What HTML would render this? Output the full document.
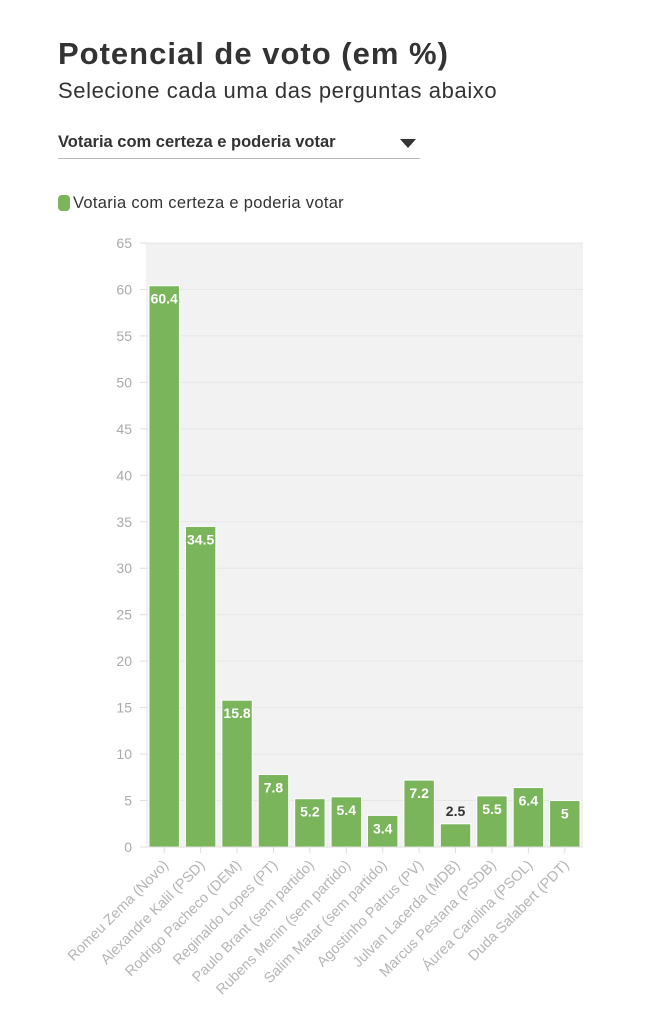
<!DOCTYPE html>
<html><head><meta charset="utf-8"><style>
body{margin:0;background:#fff;width:655px;height:1024px;overflow:hidden;font-family:"Liberation Sans",sans-serif}
h1{position:absolute;left:58px;top:36px;margin:0;font-size:31px;font-weight:bold;color:#333;letter-spacing:1px}
.sub{position:absolute;left:58px;top:78px;font-size:22px;color:#333;letter-spacing:0.6px}
.dd{position:absolute;left:58px;top:133px;width:362px;height:25px;border-bottom:1px solid #bbb;font-size:16.5px;font-weight:bold;color:#333}
.tri{position:absolute;right:4px;top:6px;width:0;height:0;border-left:8px solid transparent;border-right:8px solid transparent;border-top:9px solid #333}
.leg{position:absolute;left:58px;top:194px;font-size:16.5px;color:#333;letter-spacing:0.3px}
.sw{display:inline-block;width:12px;height:16px;border-radius:4px;background:#7ab55c;vertical-align:-3px;margin-right:3px}
</style></head><body>
<h1>Potencial de voto (em %)</h1>
<div class="sub">Selecione cada uma das perguntas abaixo</div>
<div class="dd">Votaria com certeza e poderia votar<span class="tri"></span></div>
<div class="leg"><span class="sw"></span>Votaria com certeza e poderia votar</div>
<svg id="c" width="655" height="1024" style="position:absolute;left:0;top:0"></svg>
<script>
const categories=["Romeu Zema (Novo)","Alexandre Kalil (PSD)","Rodrigo Pacheco (DEM)","Reginaldo Lopes (PT)","Paulo Brant (sem partido)","Rubens Menin (sem partido)","Salim Matar (sem partido)","Agostinho Patrus (PV)","Julvan Lacerda (MDB)","Marcus Pestana (PSDB)","Áurea Carolina (PSOL)","Duda Salabert (PDT)"];
const values=[60.4,34.5,15.8,7.8,5.2,5.4,3.4,7.2,2.5,5.5,6.4,5];
const yTicks=[0,5,10,15,20,25,30,35,40,45,50,55,60,65];
const svg=document.getElementById('c');const NS='http://www.w3.org/2000/svg';
const L=146,R=583,T=243,B=847,YMAX=65;
const y=v=>B-(v/YMAX)*(B-T);
const bw=(R-L)/categories.length;
const x=i=>L+i*bw;
function mk(t,a,p){const e=document.createElementNS(NS,t);for(const k in a)e.setAttribute(k,a[k]);(p||svg).appendChild(e);return e;}
const bg=mk('rect',{x:L,y:T,width:R-L,height:B-T,fill:'#f2f2f2'});


yTicks.forEach(t=>{
 const g=mk('line',{x1:L,x2:R,y1:y(t),y2:y(t),stroke:'#e6e6e6','stroke-width':1});
 
 
 const tk=mk('line',{x1:L-6,x2:L,y1:y(t),y2:y(t),stroke:'#ddd'});
 
 
 const tx=mk('text',{x:L-14,y:y(t)+5,'text-anchor':'end','font-size':14,fill:'#aaa','font-family':'Liberation Sans, sans-serif'});
 tx.textContent=t;
 
 
});
values.forEach((v,i)=>{
 const bx=x(i)+3,w=bw-6;
 const r=mk('rect',{x:bx,y:y(v),width:w,height:B-y(v),fill:'#7ab55c',stroke:'#fff','stroke-width':1});
 
 
 const cx=x(i)+bw/2;
 const inside=(B-y(v))>26;
 const ly=inside?y(v)+18:y(v)-8;
 const lab=mk('text',{x:cx,y:ly,'text-anchor':'middle','font-size':14,'font-weight':'bold',fill:inside?'#fff':'#333','font-family':'Liberation Sans, sans-serif'});
 if(inside){lab.setAttribute('stroke','#7ab55c');lab.setAttribute('stroke-width','3');lab.setAttribute('paint-order','stroke');}
 lab.textContent=v;
 
 
 const tk=mk('line',{x1:cx,x2:cx,y1:B,y2:B+6,stroke:'#ddd'});
 
 
 const cl=mk('text',{x:cx+5,y:B+19,'text-anchor':'end','font-size':14.5,fill:'#b5b5b5','font-family':'Liberation Sans, sans-serif',transform:`rotate(-45 ${cx+5} ${B+19})`});
 cl.textContent=categories[i];
 
 
});
const ax=mk('line',{x1:L,x2:R,y1:B,y2:B,stroke:'#ddd'});


</script>
</body></html>
